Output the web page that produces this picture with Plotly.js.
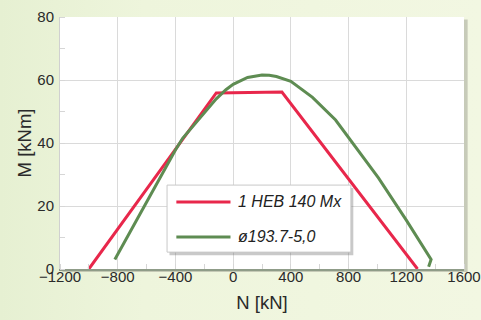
<!DOCTYPE html>
<html>
<head>
<meta charset="utf-8">
<script src="https://cdn.plot.ly/plotly-3.0.1.min.js"></script>
<style>
html,body{margin:0;padding:0;}
body{width:481px;height:320px;background:linear-gradient(90deg,#e6f0d2 0%,#eef5dc 30%,#f2f7e2 100%);}
#chart{width:481px;height:320px;}
</style>
</head>
<body>
<div id="chart"></div>
<script>
// Series names
const seriesNames = ["1 HEB 140 Mx", "\u00f8193.7-5,0"];
// Red: 1 HEB 140 Mx
const hebN = [-1000, -117, 338, 1278];
const hebM = [0, 55.9, 56.2, 0];
// Green: tube ø193.7-5,0
const tubeN = [-820, -490, -400, -350, -250, -117, -50, 0, 100, 200, 250, 300, 400, 550, 710, 850, 1007, 1200, 1372, 1355];
const tubeM = [3, 30.5, 37.8, 41.5, 46.8, 54.0, 56.9, 58.6, 60.8, 61.6, 61.5, 61.1, 59.6, 54.5, 47.3, 38.8, 28.9, 15.5, 3, 0.7];
// Axis ticks
const xTicks = [-1200, -800, -400, 0, 400, 800, 1200, 1600];
const yTicks = [0, 20, 40, 60, 80];

const colors = ["#e8274b", "#5e8c52"];
const font = "Liberation Sans, Arial, sans-serif";

const traces = [
  {x: hebN, y: hebM, mode: "lines", name: seriesNames[0], line: {color: colors[0], width: 3}, showlegend: false},
  {x: tubeN, y: tubeM, mode: "lines", name: seriesNames[1], line: {color: colors[1], width: 3}, showlegend: false}
];

// custom legend (paper coords)
const lx0 = 0.265, lx1 = 0.72, ly0 = 0.067, ly1 = 0.333;
const rows = [0.266, 0.127];
const shapes = [
  {type: "rect", xref: "paper", yref: "paper", x0: 0.006, x1: 1.009, y0: -0.012, y1: 0.99, fillcolor: "rgba(120,120,110,0.35)", line: {width: 0}, layer: "below"},
  {type: "rect", xref: "paper", yref: "paper", x0: 0, x1: 1, y0: 0, y1: 1, fillcolor: "#ffffff", line: {width: 0}, layer: "below"},
  {type: "rect", xref: "paper", yref: "paper", x0: lx0 + 0.006, x1: lx1 + 0.006, y0: ly0 - 0.012, y1: ly1 - 0.012, fillcolor: "rgba(100,100,100,0.35)", line: {width: 0}},
  {type: "rect", xref: "paper", yref: "paper", x0: lx0, x1: lx1, y0: ly0, y1: ly1, fillcolor: "#ffffff", line: {color: "#c8c8c8", width: 1}}
];
const annotations = [];
seriesNames.forEach((nm, i) => {
  shapes.push({type: "line", xref: "paper", yref: "paper", x0: 0.288, x1: 0.422, y0: rows[i], y1: rows[i], line: {color: colors[i], width: 3}});
  annotations.push({xref: "paper", yref: "paper", x: 0.435, y: rows[i], xanchor: "left", yanchor: "middle", text: "<i>" + nm + "</i>", showarrow: false, font: {family: font, size: 16, color: "#222"}});
});

const layout = {
  width: 481, height: 320,
  margin: {l: 60, r: 17, t: 17, b: 51},
  paper_bgcolor: "rgba(0,0,0,0)",
  plot_bgcolor: "rgba(0,0,0,0)",
  showlegend: false,
  font: {family: font, size: 15, color: "#2a2a2a"},
  xaxis: {
    range: [-1200, 1600], tickvals: xTicks, ticktext: xTicks.map(v => v < 0 ? "\u2212" + Math.abs(v) : String(v)),
    tickfont: {family: font, size: 15, color: "#2a2a2a"}, ticklabeloverflow: "allow",
    showgrid: true, gridcolor: "#dadada", gridwidth: 1, zeroline: false,
    showline: true, linecolor: "#8f9c88", linewidth: 2, ticks: "", ticklabelstandoff: -7,
    minor: {dtick: 200, tick0: 0, ticks: "inside", ticklen: 5, tickcolor: "#d6d6d6", showgrid: false},
    title: {text: "N [kN]", standoff: 12, font: {family: font, size: 18.5, color: "#2a2a2a"}}
  },
  yaxis: {
    range: [0, 80], tickvals: yTicks,
    tickfont: {family: font, size: 15, color: "#2a2a2a"}, ticklabeloverflow: "allow",
    showgrid: true, gridcolor: "#dadada", gridwidth: 1, zeroline: false,
    showline: true, linecolor: "#d0d0d0", linewidth: 1, ticks: "", ticklabelstandoff: 2,
    minor: {dtick: 10, tick0: 0, ticks: "inside", ticklen: 5, tickcolor: "#d6d6d6", showgrid: false},
    title: {text: "M [kNm]", standoff: 0, font: {family: font, size: 18.5, color: "#2a2a2a"}}
  },
  shapes: shapes,
  annotations: annotations
};

Plotly.newPlot("chart", traces, layout, {staticPlot: true, displayModeBar: false});
</script>
</body>
</html>
